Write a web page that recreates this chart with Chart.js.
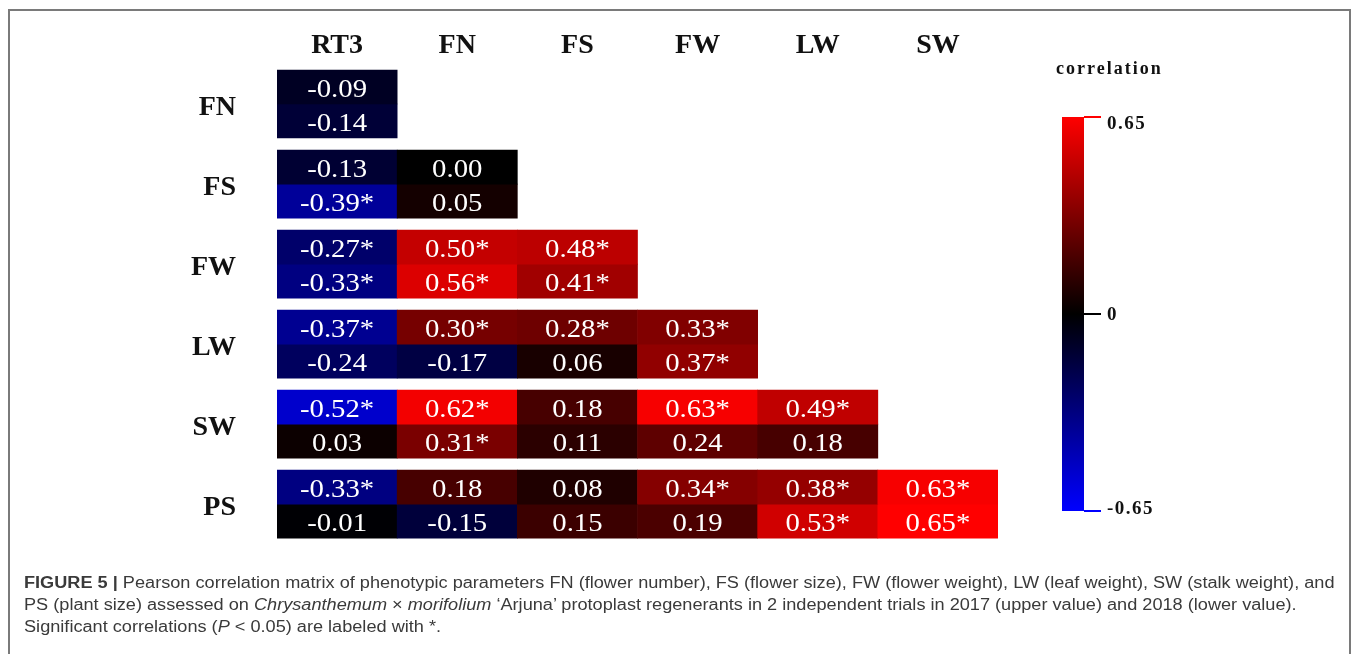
<!doctype html>
<html>
<head>
<meta charset="utf-8">
<title>Figure 5 - correlation matrix</title>
<script src="https://cdn.jsdelivr.net/npm/chart.js@4/dist/chart.umd.min.js"></script>
<style>
  body { margin: 0; background: #fff; }
  #frame { position: absolute; left: 8px; top: 9px; width: 1339px; height: 700px; border: 2px solid #7a7a7a; border-bottom: none; }
  #wrap { position: absolute; left: 0; top: 0; width: 1358px; height: 602px; }
  #caption { position: absolute; left: 24px; top: 572px; font-family: "Liberation Sans", Arial, sans-serif; font-size: 16px; line-height: 22px; color: #3a3a3a; white-space: nowrap; transform: scaleX(1.134); transform-origin: 0 0; }
</style>
</head>
<body>
<div id="frame"></div>
<div id="wrap"><canvas id="myChart"></canvas></div>
<div id="caption"><b>FIGURE 5 |</b> Pearson correlation matrix of phenotypic parameters FN (flower number), FS (flower size), FW (flower weight), LW (leaf weight), SW (stalk weight), and<br>PS (plant size) assessed on <i>Chrysanthemum</i> × <i>morifolium</i> ‘Arjuna’ protoplast regenerants in 2 independent trials in 2017 (upper value) and 2018 (lower value).<br>Significant correlations (<i>P</i> &lt; 0.05) are labeled with *.</div>
<script>
  const columns = ['RT3', 'FN', 'FS', 'FW', 'LW', 'SW'];
  const rows = ['FN', 'FS', 'FW', 'LW', 'SW', 'PS'];

  // upper value of each cell
  const r2017 = [
    [-0.09],
    [-0.13, 0.00],
    [-0.27, 0.50, 0.48],
    [-0.37, 0.30, 0.28, 0.33],
    [-0.52, 0.62, 0.18, 0.63, 0.49],
    [-0.33, 0.18, 0.08, 0.34, 0.38, 0.63]
  ];
  const sig2017 = [
    [0],
    [0, 0],
    [1, 1, 1],
    [1, 1, 1, 1],
    [1, 1, 0, 1, 1],
    [1, 0, 0, 1, 1, 1]
  ];
  // lower value of each cell
  const r2018 = [
    [-0.14],
    [-0.39, 0.05],
    [-0.33, 0.56, 0.41],
    [-0.24, -0.17, 0.06, 0.37],
    [0.03, 0.31, 0.11, 0.24, 0.18],
    [-0.01, -0.15, 0.15, 0.19, 0.53, 0.65]
  ];
  const sig2018 = [
    [0],
    [1, 0],
    [1, 1, 1],
    [0, 0, 0, 1],
    [0, 1, 0, 0, 0],
    [0, 0, 0, 0, 1, 1]
  ];
  const colorTicks = [0.65, 0, -0.65];

  const LIMIT = 0.65;
  function colorFor(v) {
    const t = Math.min(1, Math.abs(v) / LIMIT);
    const c = Math.round(t * 255);
    return v >= 0 ? 'rgb(' + c + ',0,0)' : 'rgb(0,0,' + c + ')';
  }

  // build one dataset per row and year, cells are floating bars
  const gap = 0.075;
  const datasets = [];
  rows.forEach((row, i) => {
    [[r2017, sig2017, 0], [r2018, sig2018, 1]].forEach(([vals, sigs, half]) => {
      const top = i + gap + half * (0.5 - gap);
      const bottom = top + (0.5 - gap);
      datasets.push({
        label: row + (half ? ' 2018' : ' 2017'),
        data: columns.map((c, j) => j <= i ? [top, bottom] : null),
        backgroundColor: columns.map((c, j) => j <= i ? colorFor(vals[i][j]) : 'transparent'),
        texts: columns.map((c, j) => j <= i ? vals[i][j].toFixed(2) + (sigs[i][j] ? '*' : '') : ''),
        borderWidth: 0,
        grouped: false,
        barPercentage: 1,
        categoryPercentage: 1
      });
    });
  });

  const cellText = {
    id: 'cellText',
    afterDatasetsDraw(chart) {
      const ctx = chart.ctx;
      ctx.save();
      ctx.fillStyle = '#ffffff';
      ctx.font = '25px "Liberation Serif", "Times New Roman", serif';
      ctx.textAlign = 'center';
      ctx.textBaseline = 'middle';
      chart.data.datasets.forEach((ds, k) => {
        chart.getDatasetMeta(k).data.forEach((el, j) => {
          if (!ds.texts[j]) return;
          ctx.save();
          ctx.translate(el.x, (el.y + el.base) / 2 + 3);
          ctx.scale(1.15, 1);
          ctx.fillText(ds.texts[j], 0, 0);
          ctx.restore();
        });
      });
      ctx.restore();
    }
  };

  const colorBar = {
    id: 'colorBar',
    afterDraw(chart) {
      const ctx = chart.ctx;
      const x0 = 1062, w = 22, top = 117, bottom = 511;
      ctx.save();
      const grad = ctx.createLinearGradient(0, top, 0, bottom);
      grad.addColorStop(0, colorFor(LIMIT));
      grad.addColorStop(0.5, colorFor(0));
      grad.addColorStop(1, colorFor(-LIMIT));
      ctx.fillStyle = grad;
      ctx.fillRect(x0, top, w, bottom - top);

      ctx.font = 'bold 19px "Liberation Serif", "Times New Roman", serif';
      ctx.letterSpacing = '1.5px';
      ctx.textBaseline = 'middle';
      ctx.textAlign = 'left';
      colorTicks.forEach((v) => {
        const y = top + (LIMIT - v) / (2 * LIMIT) * (bottom - top);
        ctx.strokeStyle = colorFor(v);
        ctx.lineWidth = 2;
        ctx.beginPath();
        ctx.moveTo(x0 + w, y);
        ctx.lineTo(x0 + w + 17, y);
        ctx.stroke();
        ctx.fillStyle = '#111';
        const dy = v === LIMIT ? 7 : (v === -LIMIT ? -2 : 1);
        ctx.fillText(v === 0 ? '0' : v.toFixed(2), 1107, y + dy);
      });

      ctx.font = 'bold 18px "Liberation Serif", "Times New Roman", serif';
      ctx.letterSpacing = '2px';
      ctx.fillText('correlation', 1056, 69);
      ctx.restore();
    }
  };

  const ctx = document.getElementById('myChart').getContext('2d');
  const myChart = new Chart(ctx, {
    type: 'bar',
    data: {
      labels: columns,
      datasets: datasets
    },
    options: {
      responsive: true,
      maintainAspectRatio: false,
      animation: false,
      layout: {
        padding: { left: 8, right: 360, top: 10, bottom: 16 }
      },
      scales: {
        x: {
          position: 'top',
          grid: { display: false, drawTicks: false },
          border: { display: false },
          ticks: {
            color: '#111',
            padding: 1,
            font: { family: '"Liberation Serif", "Times New Roman", serif', size: 28, weight: 'bold' }
          },
          afterFit: (scale) => { scale.height = 54; }
        },
        y: {
          min: 0,
          max: 6,
          reverse: true,
          grid: { display: false, drawTicks: false },
          border: { display: false },
          afterBuildTicks: (scale) => {
            scale.ticks = rows.map((r, i) => ({ value: i + 0.5 }));
          },
          ticks: {
            color: '#111',
            padding: 41,
            labelOffset: 4,
            font: { family: '"Liberation Serif", "Times New Roman", serif', size: 28, weight: 'bold' },
            callback: (value, index) => rows[index]
          },
          afterFit: (scale) => { scale.width = 269; }
        }
      },
      plugins: {
        legend: { display: false },
        tooltip: { enabled: false },
        title: { display: false }
      }
    },
    plugins: [cellText, colorBar]
  });
</script>
</body>
</html>
